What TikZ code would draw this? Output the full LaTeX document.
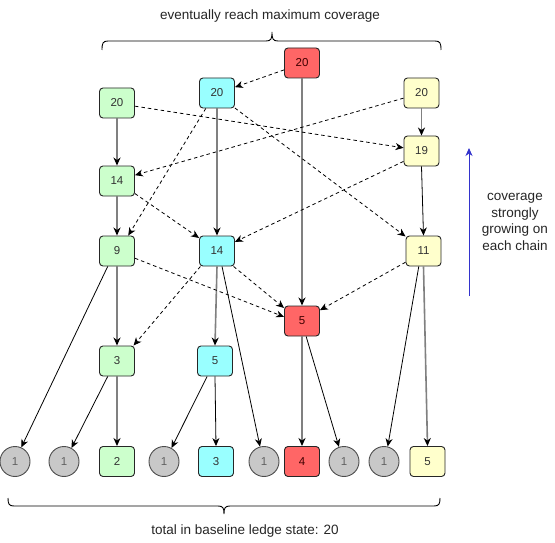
\documentclass[tikz,border=0pt]{standalone}
\usepackage{fontspec}
\setmainfont{Liberation Sans}
\usetikzlibrary{arrows.meta}
\definecolor{gfill}{HTML}{CCFFCC}
\definecolor{cfill}{HTML}{99FFFF}
\definecolor{rfill}{HTML}{FF6666}
\definecolor{yfill}{HTML}{FFFFCC}
\definecolor{kfill}{HTML}{C8C8C8}
\definecolor{edgegray}{HTML}{808080}
\definecolor{bluearrow}{HTML}{3333CC}
\begin{document}
\begin{tikzpicture}[x=1pt,y=-1pt,
  box/.style={draw=black!85, line width=0.9pt, rounded corners=3.5pt,
    minimum width=35pt, minimum height=30pt, inner sep=0pt,
    font=\fontsize{11.5}{13}\selectfont, text=black!80},
  ball/.style={circle, draw=black!70, line width=0.9pt, fill=kfill,
    minimum size=30pt, inner sep=0pt,
    font=\fontsize{11.5}{13}\selectfont, text=black!62},
  gedge/.style={draw=edgegray, line width=1.6pt,
    -{Stealth[length=8pt,width=7pt,inset=2.5pt,color=black]}},
  bedge/.style={draw=black, line width=0.8pt,
    -{Stealth[length=8pt,width=7pt,inset=2.5pt]}},
  dedge/.style={draw=black, line width=0.8pt, dash pattern=on 3.5pt off 3pt,
    -{Stealth[length=8pt,width=7pt,inset=2.5pt]}},
  lbl/.style={font=\fontsize{13.5}{16.7}\selectfont, text=black!85, inner sep=0pt},
  brace/.style={draw=black, line width=0.9pt}
]
\fill[white] (0,0) rectangle (555,543);
\useasboundingbox (0,0) rectangle (555,543);

% green chain
\node[box, fill=gfill] (g20) at (117,103) {20};
\node[box, fill=gfill] (g14) at (117,181) {14};
\node[box, fill=gfill] (g9)  at (117,251) {9};
\node[box, fill=gfill] (g3)  at (117,361) {3};
\node[box, fill=gfill] (g2)  at (117,461.5) {2};
% cyan chain
\node[box, fill=cfill] (c20) at (217,93) {20};
\node[box, fill=cfill] (c14) at (217,251) {14};
\node[box, fill=cfill] (c5)  at (215,361) {5};
\node[box, fill=cfill] (c3)  at (216,461.5) {3};
% red chain
\node[box, fill=rfill, text=black!75!red] (r20) at (302,63) {20};
\node[box, fill=rfill, text=black!75!red] (r5)  at (302,321) {5};
\node[box, fill=rfill, text=black!75!red] (r4)  at (302,461.5) {4};
% yellow chain
\node[box, fill=yfill] (y20) at (421.5,93) {20};
\node[box, fill=yfill] (y19) at (421.5,151) {19};
\node[box, fill=yfill] (y11) at (423.5,251) {11};
\node[box, fill=yfill] (y5)  at (427.5,461.5) {5};
% gray balls
\node[ball] (k1) at (15,461.5) {1};
\node[ball] (k2) at (64,461.5) {1};
\node[ball] (k3) at (164,461.5) {1};
\node[ball] (k4) at (264,461.5) {1};
\node[ball] (k5) at (344,461.5) {1};
\node[ball] (k6) at (384,461.5) {1};

% gray chain edges
\draw[gedge] (g20) -- (g14);
\draw[gedge] (g14) -- (g9);
\draw[gedge] (g9) -- (g3);
\draw[gedge] (g3) -- (g2);
\draw[gedge] (c20) -- (c14);
\draw[gedge] (c14.south) -- (c5.north);
\draw[gedge] (r20) -- (r5);
\draw[gedge] (r5) -- (r4);
\draw[gedge] (y20) -- (y19);
\draw[gedge] (y11.south) -- (y5.north);

% black solid edges
\draw[bedge] (y19.south) -- (y11.north);
\draw[bedge] (c5.south) -- (c3.north);
\draw[bedge] (g9.239) -- (k1.66);
\draw[bedge] (g3.239) -- (k2.61);
\draw[bedge] (c5.243) -- (k3.61);
\draw[bedge] (c14.288) -- (k4.105);
\draw[bedge] (r5.285) -- (k5.109);
\draw[bedge] (y11.253) -- (k6.76);

% dashed edges
\draw[dedge] (r20.201) -- (c20.18);
\draw[dedge] (g20.-10) -- (y19.170);
\draw[dedge] (y20.196) -- (g14.18);
\draw[dedge] (c20.234) -- (g9.54);
\draw[dedge] (c20.320) -- (y11.141);
\draw[dedge] (g14.-35) -- (c14.144);
\draw[dedge] (y19.210) -- (c14.27);
\draw[dedge] (g9.-22) -- (r5.167);
\draw[dedge] (c14.-43) -- (r5.144);
\draw[dedge] (c14.223) -- (g3.43);
\draw[dedge] (y11.212) -- (r5.31);

% braces
\draw[brace] (102,50) .. controls (102,43) and (103,41) .. (108,41) -- (266,41)
  .. controls (271,41) and (272,39) .. (272,32)
  .. controls (272,39) and (273,41) .. (278,41) -- (435,41)
  .. controls (440,41) and (441,43) .. (441,50);
\draw[brace] (8,498) .. controls (8,504) and (9,506) .. (14,506) -- (218,506)
  .. controls (223,506) and (224,508) .. (224,514)
  .. controls (224,508) and (225,506) .. (230,506) -- (434,506)
  .. controls (439,506) and (440,504) .. (440,498);

% labels
\node[lbl] (top) at (270,16) {eventually reach maximum coverage};
\node[lbl] (bot) at (245,531) {total in baseline ledge state: 20};
\node[lbl, align=center] (side) at (515,222) {coverage\\strongly\\growing on\\each chain};

% blue arrow
\coordinate (bstart) at (469,296);
\coordinate (bend) at (469,148);
\draw[draw=bluearrow, line width=0.9pt, -{Stealth[length=8pt,width=7pt,inset=2.5pt]}] (bstart) -- (bend);
\end{tikzpicture}
\end{document}
